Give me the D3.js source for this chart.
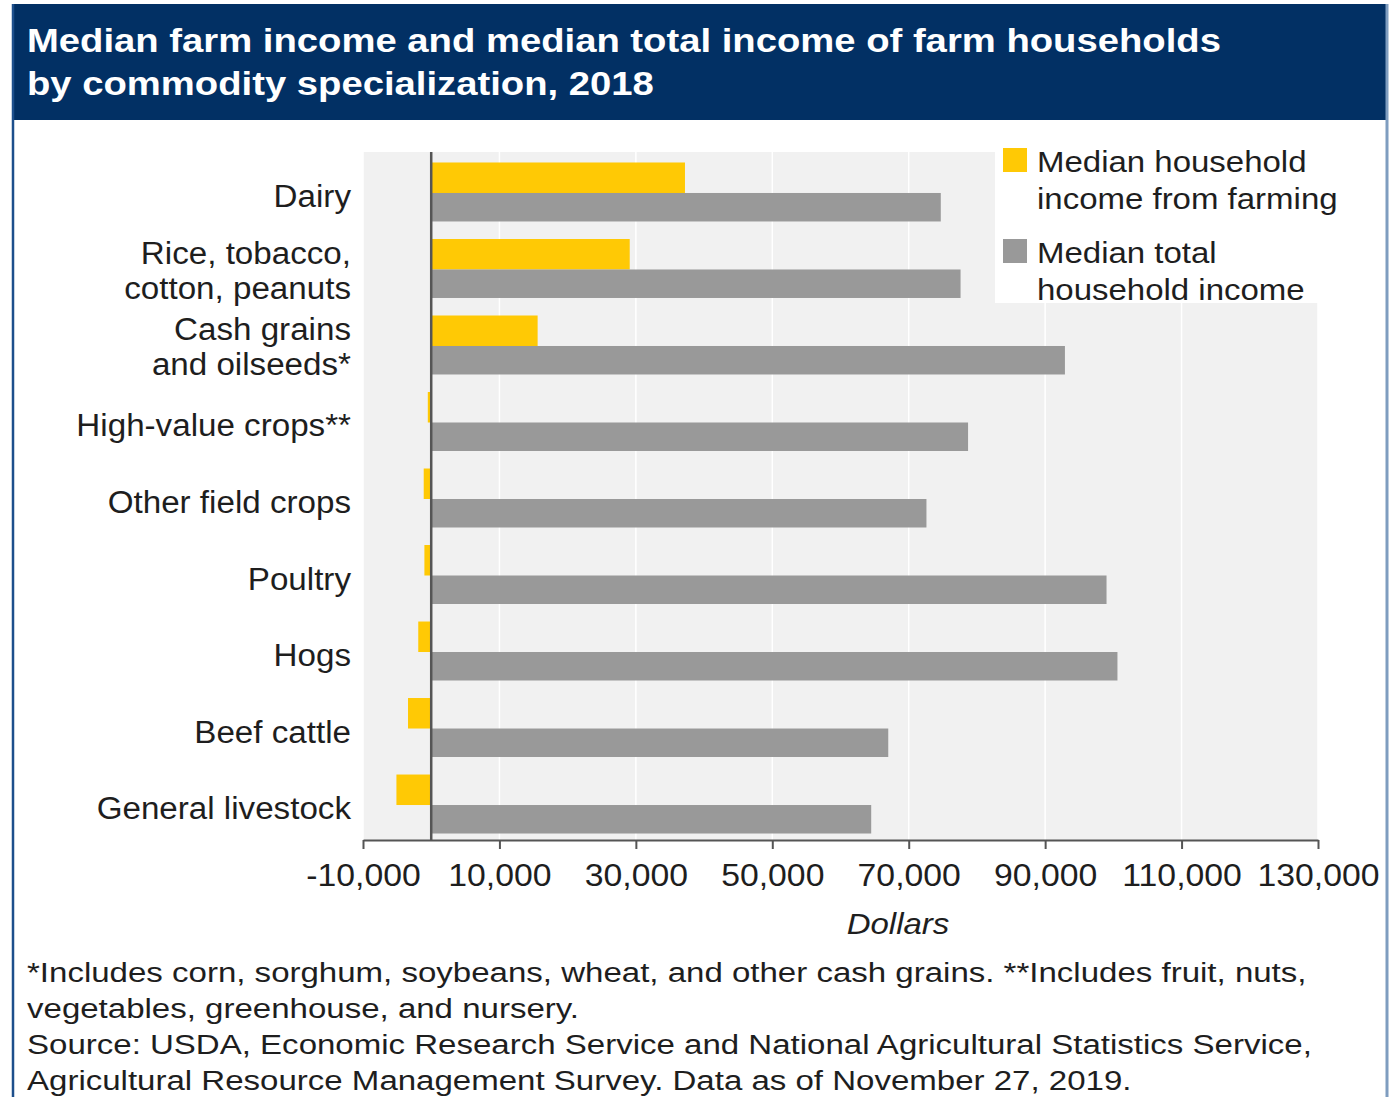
<!DOCTYPE html>
<html>
<head>
<meta charset="utf-8">
<script src="https://cdn.jsdelivr.net/npm/d3@7"></script>
<style>
  html, body { margin: 0; padding: 0; background: #ffffff; }
  svg { display: block; }
  text { font-family: "Liberation Sans", Arial, Helvetica, sans-serif; }
</style>
</head>
<body>
<svg id="chart" width="1390" height="1097"></svg>
<script>
// ---- Data ----
const categories = [
  "Dairy",
  "Rice, tobacco,\ncotton, peanuts",
  "Cash grains\nand oilseeds*",
  "High-value crops**",
  "Other field crops",
  "Poultry",
  "Hogs",
  "Beef cattle",
  "General livestock"
];
const farmIncome  = [37200, 29100, 15600, -500, -1100, -1000, -1900, -3400, -5100];
const totalIncome = [74700, 77600, 92900, 78700, 72600, 99000, 100600, 67000, 64500];
const seriesNames = ["Median household\nincome from farming", "Median total\nhousehold income"];
const tickValues = [-10000, 10000, 30000, 50000, 70000, 90000, 110000, 130000];
const titleLines = [
  "Median farm income and median total income of farm households",
  "by commodity specialization, 2018"
];
const footnoteLines = [
  "*Includes corn, sorghum, soybeans, wheat, and other cash grains. **Includes fruit, nuts,",
  "vegetables, greenhouse, and nursery.",
  "Source: USDA, Economic Research Service and National Agricultural Statistics Service,",
  "Agricultural Resource Management Survey. Data as of November 27, 2019."
];
const axisTitle = "Dollars";

// ---- Styles ----
const colors = { farm: "#ffc905", total: "#999999", header: "#023064", bg: "#f1f1f1", text: "#1e1e1e" };

const svg = d3.select("#chart");
// horizontally stretched text group anchored at (ax, 0)
const stretched = (ax, sx) => svg.append("g").attr("transform", `translate(${ax},0) scale(${sx},1)`);

// Header
svg.append("rect").attr("x", 12).attr("y", 4).attr("width", 1376).attr("height", 116).attr("fill", colors.header);
stretched(27, 1.125).selectAll("text").data(titleLines).join("text")
  .attr("x", 0).attr("y", (d, i) => 52 + i * 43)
  .attr("fill", "#ffffff").attr("font-weight", "bold").attr("font-size", 34)
  .text(d => d);

// Borders
svg.append("line").attr("x1", 13).attr("x2", 13).attr("y1", 4).attr("y2", 1097)
  .attr("stroke", "#1d4f8c").attr("stroke-width", 2.5);
svg.append("line").attr("x1", 1387).attr("x2", 1387).attr("y1", 4).attr("y2", 1097)
  .attr("stroke", "#7f9dc0").attr("stroke-width", 3);

// Scales
const plot = { left: 363, right: 1318, top: 152, bottom: 840 };
const x = d3.scaleLinear().domain([-10000, 130000]).range([plot.left, plot.right]);
const y = d3.scaleBand().domain(categories).range([plot.top + 2, plot.bottom + 2])
  .paddingInner(0.229).paddingOuter(0.111);
const sub = d3.scaleBand().domain(["farm", "total"]).range([0, y.bandwidth()]).padding(0);

// Plot background
svg.append("rect").attr("x", plot.left).attr("y", plot.top)
  .attr("width", plot.right - plot.left).attr("height", plot.bottom - plot.top)
  .attr("fill", colors.bg);

// Gridlines
svg.append("g").selectAll("line").data(tickValues).join("line")
  .attr("x1", d => x(d)).attr("x2", d => x(d))
  .attr("y1", plot.top).attr("y2", plot.bottom)
  .attr("stroke", "#ffffff").attr("stroke-width", 1.5);

// Bars
const rows = categories.map((c, i) => ({ cat: c, farm: farmIncome[i], total: totalIncome[i] }));
svg.append("g").selectAll("rect").data(rows).join("rect")
  .attr("x", d => x(Math.min(0, d.farm)))
  .attr("width", d => Math.abs(x(d.farm) - x(0)))
  .attr("y", d => y(d.cat) + sub("farm"))
  .attr("height", sub.bandwidth() + 1)
  .attr("fill", colors.farm);
svg.append("g").selectAll("rect").data(rows).join("rect")
  .attr("x", d => x(Math.min(0, d.total)))
  .attr("width", d => Math.abs(x(d.total) - x(0)))
  .attr("y", d => y(d.cat) + sub("total") + 1)
  .attr("height", sub.bandwidth() - 1)
  .attr("fill", colors.total);

// Zero line
svg.append("line").attr("x1", x(0)).attr("x2", x(0))
  .attr("y1", plot.top).attr("y2", plot.bottom)
  .attr("stroke", "#555555").attr("stroke-width", 2.5);

// Category labels
const lh = 35;
stretched(351, 1.07).selectAll("text").data(categories).join("text")
  .attr("text-anchor", "end").attr("font-size", 31).attr("fill", colors.text)
  .each(function (d) {
    const lines = d.split("\n");
    const cy = y(d) + y.bandwidth() / 2;
    const t = d3.select(this);
    lines.forEach((ln, i) => {
      t.append("tspan").attr("x", 0)
        .attr("y", cy + (i - (lines.length - 1) / 2) * lh + (lines.length > 1 ? 13 : 15))
        .text(ln);
    });
  });

// X axis
const fmt = d3.format(",");
const xAxis = d3.axisBottom(x).tickValues(tickValues).tickFormat(d => fmt(d).replace("\u2212", "-"))
  .tickSize(9).tickSizeOuter(0).tickPadding(15);
const gx = svg.append("g").attr("transform", `translate(0,${plot.bottom})`).call(xAxis);
gx.select(".domain").attr("stroke", "#555555").attr("stroke-width", 2);
gx.selectAll(".tick line").attr("stroke", "#555555").attr("stroke-width", 2);
gx.selectAll(".tick text").attr("font-size", 31).attr("fill", colors.text)
  .attr("transform", "scale(1.09,1)")
  .attr("font-family", "'Liberation Sans', Arial, sans-serif");

stretched(898, 1.1).append("text").attr("x", 0).attr("y", 934).attr("text-anchor", "middle")
  .attr("font-size", 30).attr("font-style", "italic").attr("fill", colors.text)
  .text(axisTitle);

// Legend
svg.append("rect").attr("x", 995).attr("y", 140).attr("width", 323).attr("height", 163).attr("fill", "#ffffff");
const legendItems = [
  { name: seriesNames[0], color: colors.farm, y: 148 },
  { name: seriesNames[1], color: colors.total, y: 239 }
];
svg.append("g").selectAll("rect").data(legendItems).join("rect")
  .attr("x", 1003).attr("y", d => d.y).attr("width", 24).attr("height", 24).attr("fill", d => d.color);
stretched(1037, 1.1).selectAll("text").data(legendItems).join("text")
  .attr("font-size", 30).attr("fill", colors.text)
  .each(function (d) {
    const t = d3.select(this);
    d.name.split("\n").forEach((ln, i) => {
      t.append("tspan").attr("x", 0).attr("y", d.y + 24 + i * 37).text(ln);
    });
  });

// Footnotes
stretched(27, 1.18).selectAll("text").data(footnoteLines).join("text")
  .attr("x", 0).attr("y", (d, i) => 982 + i * 36)
  .attr("font-size", 28).attr("fill", colors.text)
  .text(d => d);
</script>
</body>
</html>
